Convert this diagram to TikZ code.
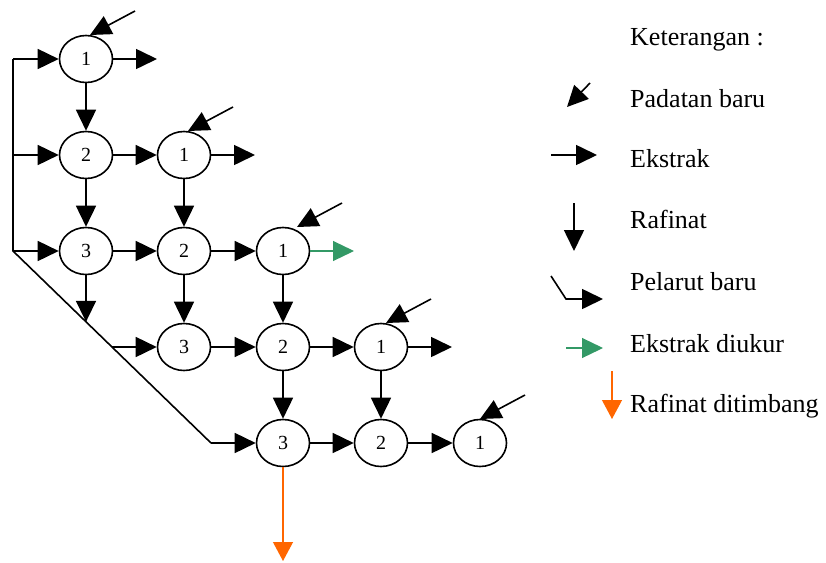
\documentclass[tikz,border=0pt]{standalone}
\usepackage{fontspec}
\setmainfont{Liberation Serif}
\usetikzlibrary{arrows.meta,shapes.geometric,calc}
\definecolor{ekgreen}{RGB}{51,153,102}
\definecolor{rforange}{RGB}{255,102,0}
\begin{document}
\begin{tikzpicture}[x=1pt,y=-1pt,
  stage/.style={ellipse,draw,line width=1.6pt,minimum width=53pt,minimum height=47pt,
    inner sep=0pt,font=\fontsize{20}{24}\selectfont},
  pipe/.style={line width=1.6pt},
  flow/.style={line width=1.6pt,-{Triangle[length=21pt,width=20pt]}},
  measured/.style={draw=ekgreen,line width=1.2pt,-{Triangle[length=21pt,width=20pt,fill=ekgreen]}},
  weighed/.style={draw=rforange,line width=1.2pt,-{Triangle[length=19pt,width=20pt,fill=rforange]}},
  legend/.style={anchor=base west,inner sep=0pt,font=\fontsize{26}{30}\selectfont}]
\useasboundingbox (0,0) rectangle (826,562);

% extraction stages
\node[stage] (a1) at (86,59) {1};
\node[stage] (b2) at (86,155) {2};
\node[stage] (b1) at (184,155) {1};
\node[stage] (c3) at (86,251) {3};
\node[stage] (c2) at (184,251) {2};
\node[stage] (c1) at (283,251) {1};
\node[stage] (d3) at (184,347) {3};
\node[stage] (d2) at (283,347) {2};
\node[stage] (d1) at (381,347) {1};
\node[stage] (e3) at (283,443) {3};
\node[stage] (e2) at (381,443) {2};
\node[stage] (e1) at (480,443) {1};

% fresh solvent feed line
\coordinate (s1) at (13,59);
\coordinate (s2) at (13,155);
\coordinate (s3) at (13,251);
\coordinate (s5) at (211,443);
\coordinate (s4) at ($(s3)!0.5!(s5)$);
\coordinate (cdrop) at ($(s3)!0.369!(s5)$);
\draw[pipe] (s1) -- (s3) -- (s5);
\draw[flow] (s1) -- (a1);
\draw[flow] (s2) -- (b2);
\draw[flow] (s3) -- (c3);
\draw[flow] (s4) -- (d3);
\draw[flow] (s5) -- (e3);

% raffinate (downwards)
\draw[flow] (a1) -- (b2);
\draw[flow] (b2) -- (c3);
\draw[flow] (c3.south) -- (c3.south |- cdrop);
\draw[flow] (b1) -- (c2);
\draw[flow] (c2) -- (d3);
\draw[flow] (c1) -- (d2);
\draw[flow] (d2) -- (e3);
\draw[flow] (d1) -- (e2);

% extract (rightwards)
\draw[flow] (b2) -- (b1);
\draw[flow] (c3) -- (c2);
\draw[flow] (c2) -- (c1);
\draw[flow] (d3) -- (d2);
\draw[flow] (d2) -- (d1);
\draw[flow] (e3) -- (e2);
\draw[flow] (e2) -- (e1);

\coordinate (oa) at (157,59);
\coordinate (ob) at (255,155);
\coordinate (oc) at (354,251);
\coordinate (od) at (452,347);
\draw[flow] (a1) -- (oa);
\draw[flow] (b1) -- (ob);
\draw[flow] (d1) -- (od);
\draw[measured] (c1) -- (oc);

\coordinate (w) at (283,561);
\draw[weighed] (e3) -- (w);

% fresh solid feed
\foreach \n/\tx/\ty in {a/90/35, b/188/131, c/297/227, d/386/323, e/480/419}{
  \coordinate (p\n) at (\tx,\ty);
  \coordinate (q\n) at ($(p\n)+(45,-24)$);
  \draw[flow] (q\n) -- (p\n);
}

% key
\node[legend] (k0) at (630,45) {Keterangan :};
\node[legend] (k1) at (630,107) {Padatan baru};
\node[legend] (k2) at (630,167) {Ekstrak};
\node[legend] (k3) at (630,228) {Rafinat};
\node[legend] (k4) at (630,290) {Pelarut baru};
\node[legend] (k5) at (630,352) {Ekstrak diukur};
\node[legend] (k6) at (630,412) {Rafinat ditimbang};

\coordinate (l1a) at (590,83);  \coordinate (l1b) at (567,107);
\coordinate (l2a) at (551,155); \coordinate (l2b) at (597,155);
\coordinate (l3a) at (574,203); \coordinate (l3b) at (574,251);
\coordinate (l4a) at (551,276); \coordinate (l4m) at (566,299); \coordinate (l4b) at (603,299);
\coordinate (l5a) at (566,348); \coordinate (l5b) at (603,348);
\coordinate (l6a) at (612,371); \coordinate (l6b) at (612,419);
\draw[flow] (l1a) -- (l1b);
\draw[flow] (l2a) -- (l2b);
\draw[flow] (l3a) -- (l3b);
\draw[flow] (l4a) -- (l4m) -- (l4b);
\draw[measured] (l5a) -- (l5b);
\draw[weighed] (l6a) -- (l6b);
\end{tikzpicture}
\end{document}
